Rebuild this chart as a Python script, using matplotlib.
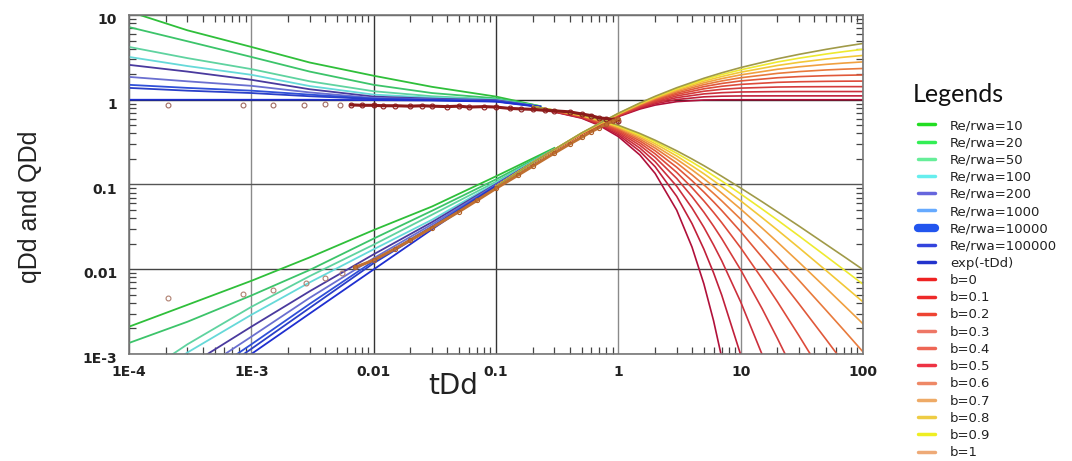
import matplotlib
matplotlib.use('Agg')
import matplotlib.pyplot as plt
import matplotlib.transforms as mtransforms
from matplotlib.lines import Line2D
from matplotlib.ticker import LogLocator, NullFormatter
import numpy as np

nan = np.nan

# transient stems (Re/rwa) - rate
t_trans_rate = [1e-4, 3e-4, 1e-3, 3e-3, 0.01, 0.03, 0.1, 0.23]
q_trans = [
    [11.0, 6.6, 4.2, 2.75, 1.92, 1.42, 1.09, 0.84],   # Re/rwa=10
    [7.2, 4.9, 3.2, 2.15, 1.50, 1.20, 1.04, 0.84],    # 20
    [4.2, 3.1, 2.3, 1.65, 1.26, 1.10, 1.01, 0.83],    # 50
    [3.2, 2.5, 1.97, 1.45, 1.15, 1.06, 1.00, 0.83],   # 100
    [2.58, 2.15, 1.72, 1.33, 1.09, 1.03, 0.99, 0.83], # 200
    [1.86, 1.65, 1.46, 1.22, 1.05, 1.01, 0.97, 0.83], # 1000
    [1.50, 1.38, 1.28, 1.15, 1.03, 1.00, 0.96, 0.83], # 10000
    [1.38, 1.28, 1.20, 1.10, 1.02, 0.99, 0.96, 0.83], # 100000
    [1.0, 1.0, 1.0, 1.0, 0.99, 0.98, 0.95, 0.82],     # exp(-tDd)
]

# transient stems - cumulative
t_trans_cum = [1e-4, 3e-4, 1e-3, 3e-3, 0.01, 0.03, 0.1, 0.3]
Q_trans = [
    [0.0021, 0.0038, 0.0073, 0.0138, 0.029, 0.055, 0.125, 0.27],
    [0.00135, 0.0024, 0.0049, 0.0098, 0.023, 0.049, 0.115, 0.265],
    [0.00045, 0.0013, 0.0036, 0.0083, 0.0195, 0.044, 0.108, 0.262],
    [0.00035, 0.00104, 0.0029, 0.0070, 0.0172, 0.0384, 0.104, 0.26],
    [0.00025, 0.00071, 0.0021, 0.0055, 0.015, 0.036, 0.101, 0.259],
    [0.00017, 0.00051, 0.0016, 0.0046, 0.0135, 0.034, 0.099, 0.258],
    [0.00013, 0.0004, 0.0013, 0.0039, 0.0125, 0.032, 0.097, 0.258],
    [0.00011, 0.00035, 0.00115, 0.0035, 0.0118, 0.031, 0.096, 0.258],
    [0.0001, 0.0003, 0.001, 0.003, 0.00995, 0.0296, 0.095, 0.259],
]

re_labels = ['Re/rwa=10', 'Re/rwa=20', 'Re/rwa=50', 'Re/rwa=100', 'Re/rwa=200',
             'Re/rwa=1000', 'Re/rwa=10000', 'Re/rwa=100000', 'exp(-tDd)']
re_colors = ['#2fbf3a', '#3cc46a', '#5fd3a0', '#66d9d9', '#4a3a9e',
             '#6a6fd0', '#3050d8', '#2a3fc8', '#1f2fd0']

# Arps depletion stems - rate
t_arps_rate = [0.2, 0.5, 0.7, 1, 1.5, 2, 3, 4, 5, 6, 7, 10, 15, 20, 30, 50, 70, 100]
q_arps = [
    [0.819, 0.607, 0.497, 0.368, 0.223, 0.135, 0.0498, 0.0183, 0.00674, 0.00248, 0.00091, 4.5e-5, nan, nan, nan, nan, nan, nan],
    [0.820, 0.614, 0.508, 0.386, 0.247, 0.162, 0.0725, 0.0346, 0.0173, 0.0091, 0.00496, 0.00098, 0.000105, nan, nan, nan, nan, nan],
    [0.822, 0.621, 0.519, 0.402, 0.269, 0.186, 0.0954, 0.0529, 0.0313, 0.0194, 0.0126, 0.00412, 0.00098, 0.00032, nan, nan, nan, nan],
    [0.823, 0.628, 0.530, 0.417, 0.290, 0.209, 0.118, 0.0722, 0.0472, 0.0323, 0.0230, 0.00984, 0.00341, 0.00152, 0.000464, nan, nan, nan],
    [0.825, 0.634, 0.539, 0.431, 0.309, 0.230, 0.139, 0.0917, 0.0642, 0.0469, 0.0355, 0.0179, 0.00771, 0.00412, 0.00164, 0.000495, nan, nan],
    [0.826, 0.640, 0.549, 0.444, 0.327, 0.250, 0.160, 0.111, 0.0816, 0.0625, 0.0494, 0.0278, 0.0138, 0.00826, 0.0039, 0.00148, 0.000772, 0.000384],
    [0.828, 0.646, 0.557, 0.457, 0.343, 0.269, 0.180, 0.130, 0.0992, 0.0786, 0.0641, 0.0390, 0.0215, 0.0139, 0.00739, 0.00327, 0.00190, 0.00106],
    [0.829, 0.651, 0.566, 0.469, 0.359, 0.286, 0.199, 0.149, 0.117, 0.0949, 0.0792, 0.0513, 0.0305, 0.0209, 0.0121, 0.00598, 0.00374, 0.00227],
    [0.831, 0.657, 0.574, 0.480, 0.373, 0.303, 0.217, 0.166, 0.134, 0.111, 0.0945, 0.0642, 0.0405, 0.0290, 0.0179, 0.00964, 0.00638, 0.00412],
    [0.832, 0.662, 0.581, 0.490, 0.387, 0.319, 0.234, 0.184, 0.151, 0.127, 0.110, 0.0774, 0.0512, 0.0380, 0.0247, 0.0142, 0.00984, 0.00666],
    [0.833, 0.667, 0.588, 0.500, 0.400, 0.333, 0.250, 0.200, 0.167, 0.143, 0.125, 0.0909, 0.0625, 0.0476, 0.0323, 0.0196, 0.0141, 0.0099],
]

# Arps depletion stems - cumulative
t_arps_cum = [0.1, 0.2, 0.5, 1, 1.5, 2, 3, 5, 7, 10, 20, 30, 50, 70, 100]
Q_arps = [
    [0.095, 0.181, 0.393, 0.632, 0.777, 0.865, 0.950, 0.993, 0.999, 1.0, 1.0, 1.0, 1.0, 1.0, 1.0],
    [0.095, 0.181, 0.394, 0.640, 0.795, 0.896, 1.006, 1.082, 1.102, 1.109, 1.111, 1.111, 1.111, 1.111, 1.111],
    [0.095, 0.181, 0.395, 0.647, 0.812, 0.925, 1.059, 1.172, 1.212, 1.235, 1.248, 1.250, 1.250, 1.250, 1.250],
    [0.095, 0.181, 0.396, 0.654, 0.828, 0.951, 1.109, 1.260, 1.327, 1.372, 1.413, 1.422, 1.426, 1.428, 1.428],
    [0.095, 0.181, 0.397, 0.661, 0.843, 0.977, 1.156, 1.346, 1.442, 1.518, 1.605, 1.631, 1.649, 1.656, 1.660],
    [0.095, 0.182, 0.398, 0.667, 0.857, 1.000, 1.200, 1.429, 1.556, 1.667, 1.818, 1.875, 1.923, 1.944, 1.961],
    [0.095, 0.182, 0.399, 0.673, 0.870, 1.022, 1.242, 1.508, 1.667, 1.817, 2.048, 2.149, 2.247, 2.296, 2.339],
    [0.095, 0.182, 0.401, 0.678, 0.883, 1.043, 1.281, 1.584, 1.776, 1.966, 2.289, 2.447, 2.616, 2.710, 2.797],
    [0.095, 0.182, 0.402, 0.683, 0.895, 1.063, 1.318, 1.657, 1.881, 2.113, 2.538, 2.764, 3.024, 3.180, 3.333],
    [0.095, 0.182, 0.404, 0.688, 0.906, 1.081, 1.353, 1.725, 1.982, 2.257, 2.790, 3.094, 3.465, 3.700, 3.942],
    [0.095, 0.182, 0.405, 0.693, 0.916, 1.099, 1.386, 1.792, 2.079, 2.398, 3.045, 3.434, 3.932, 4.263, 4.615],
]

b_labels = ['b=0', 'b=0.1', 'b=0.2', 'b=0.3', 'b=0.4', 'b=0.5',
            'b=0.6', 'b=0.7', 'b=0.8', 'b=0.9', 'b=1']
b_colors = ['#b0103a', '#c01f3a', '#cc2f3c', '#d43c3c', '#dd4a3a', '#e0583a',
            '#e87a3c', '#f0a040', '#f2c838', '#eeea30', '#a09a48']

# legend colours (as drawn in the legend box)
legend_colors = ['#22dd22', '#33ee55', '#66ee99', '#66eeee', '#6666dd', '#66aaff',
                 '#2255ee', '#3344dd', '#2233cc',
                 '#ee2222', '#ee2a2a', '#ee4433', '#ee7766', '#ee6655', '#ee3344',
                 '#ee8866', '#eeaa66', '#eecc44', '#eeee22', '#eeaa77']

# well data
data_t_rate = [2.1e-4, 8.6e-4, 1.5e-3, 2.7e-3, 4e-3, 5.3e-3, 6.5e-3, 8e-3, 0.01, 0.012,
               0.015, 0.02, 0.025, 0.03, 0.04, 0.05, 0.06, 0.08, 0.1, 0.13, 0.16, 0.2,
               0.25, 0.3, 0.4, 0.5, 0.6, 0.7, 0.8, 0.9, 1.0]
data_q_rate = [0.86, 0.86, 0.86, 0.87, 0.88, 0.86, 0.87, 0.86, 0.86, 0.85,
               0.85, 0.84, 0.85, 0.84, 0.83, 0.84, 0.82, 0.83, 0.82, 0.79, 0.78, 0.77,
               0.75, 0.74, 0.72, 0.68, 0.65, 0.61, 0.60, 0.58, 0.56]
data_t_cum = [2.1e-4, 8.6e-4, 1.5e-3, 2.8e-3, 4e-3, 5.5e-3, 7e-3, 0.01, 0.015, 0.02,
              0.03, 0.05, 0.07, 0.1, 0.15, 0.2, 0.3, 0.4, 0.5, 0.6, 0.7, 0.8, 0.9, 1.0]
data_Q_cum = [0.0046, 0.0051, 0.0057, 0.0068, 0.0078, 0.009, 0.0105, 0.0128, 0.0175, 0.022,
              0.031, 0.048, 0.065, 0.09, 0.128, 0.165, 0.235, 0.30, 0.36, 0.42, 0.47, 0.52, 0.56, 0.60]

x_ticks = [1e-4, 1e-3, 0.01, 0.1, 1, 10, 100]
x_ticklabels = ['1E-4', '1E-3', '0.01', '0.1', '1', '10', '100']
y_ticks = [1e-3, 0.01, 0.1, 1, 10]
y_ticklabels = ['1E-3', '0.01', '0.1', '1', '10']

plt.rcParams['font.family'] = 'DejaVu Sans'

fig = plt.figure(figsize=(10.72, 4.61), dpi=100)
ax = fig.add_axes([129 / 1072, 1 - 354 / 461, 734 / 1072, 339 / 461])
ax.set_xscale('log')
ax.set_yscale('log')
ax.set_xlim(1e-4, 100)
ax.set_ylim(1e-3, 10)

for q, Q, c in zip(q_trans, Q_trans, re_colors):
    ax.plot(t_trans_rate, q, color=c, lw=1.3)
    ax.plot(t_trans_cum, Q, color=c, lw=1.3)

for q, Q, c in zip(q_arps, Q_arps, b_colors):
    ax.plot(t_arps_rate, q, color=c, lw=1.2)
    ax.plot(t_arps_cum, Q, color=c, lw=1.2)

# data: sparse early points as circles, dense part as a thick noisy trace
tr = np.array(data_t_rate)
qr = np.array(data_q_rate)
tc = np.array(data_t_cum)
qc = np.array(data_Q_cum)
ax.plot(tr[tr < 6e-3], qr[tr < 6e-3], 'o', ms=3.5, mfc='none', mec='#a06a60', mew=0.8, zorder=5)
ax.plot(tr[tr >= 6e-3], qr[tr >= 6e-3], '-o', color='#8b1a1a', lw=2.2, ms=3.5,
        mfc='none', mec='#8b1a1a', mew=0.8, zorder=5)
ax.plot(tc[tc < 6e-3], qc[tc < 6e-3], 'o', ms=3.5, mfc='none', mec='#b08070', mew=0.8, zorder=5)
ax.plot(tc[tc >= 6e-3], qc[tc >= 6e-3], '-o', color='#c07030', lw=2.2, ms=3.0,
        mfc='none', mec='#b06028', mew=0.8, zorder=5)

ax.set_xticks(x_ticks, x_ticklabels)
ax.set_yticks(y_ticks, y_ticklabels)
ax.xaxis.set_minor_locator(LogLocator(base=10, subs=np.arange(2, 10), numticks=20))
ax.yaxis.set_minor_locator(LogLocator(base=10, subs=np.arange(2, 10), numticks=20))
ax.xaxis.set_minor_formatter(NullFormatter())
ax.yaxis.set_minor_formatter(NullFormatter())
ax.tick_params(which='major', length=0, labelsize=10, labelcolor='#222222')
ax.tick_params(axis='x', which='major', pad=8)
ax.tick_params(axis='y', which='major', pad=8.5)
ax.tick_params(which='minor', direction='in', length=5, width=0.9, color='#444444',
               top=True, right=True)
for lab in ax.get_xticklabels() + ax.get_yticklabels():
    lab.set_fontweight('bold')
offset = mtransforms.ScaledTranslation(0, -0.035, fig.dpi_scale_trans)
for lab in ax.get_yticklabels():
    lab.set_transform(lab.get_transform() + offset)

ax.grid(True, which='major', color='#555555', lw=1.0)
xgrid_colors = ['#555555', '#8a8a8a', '#333333', '#333333', '#8a8a8a', '#8a8a8a', '#555555']
ygrid_colors = ['#555555', '#444444', '#555555', '#222222', '#555555']
for gl, c in zip(ax.get_xgridlines(), xgrid_colors):
    gl.set_color(c)
for gl, c in zip(ax.get_ygridlines(), ygrid_colors):
    gl.set_color(c)
for sp in ax.spines.values():
    sp.set_color('#777777')
    sp.set_linewidth(1.2)

fig.text(453 / 1072, 1 - 386 / 461, 'tDd', ha='center', va='center', fontsize=20, color='#222222')
fig.text(30 / 1072, 1 - 207 / 461, 'qDd and QDd', rotation=90, ha='center', va='center',
         fontsize=18, color='#222222', family='Liberation Sans')

# legend
fig.text(913 / 1072, 1 - 102 / 461, 'Legends', ha='left', va='baseline', fontsize=18,
         family='Lato', color='#111111')
labels = re_labels + b_labels
handles = []
for lab, c in zip(labels, legend_colors):
    lw = 6 if lab == 'Re/rwa=10000' else 2.5
    handles.append(Line2D([], [], color=c, lw=lw, solid_capstyle='round'))
fig.legend(handles, labels, loc='upper left', bbox_to_anchor=(918 / 1072, 1 - 119 / 461),
           frameon=False, fontsize=9.5, handlelength=1.29, handletextpad=1.14,
           labelspacing=0.32, borderpad=0, borderaxespad=0, labelcolor='#222222')

fig.savefig('out.png', dpi=100)
